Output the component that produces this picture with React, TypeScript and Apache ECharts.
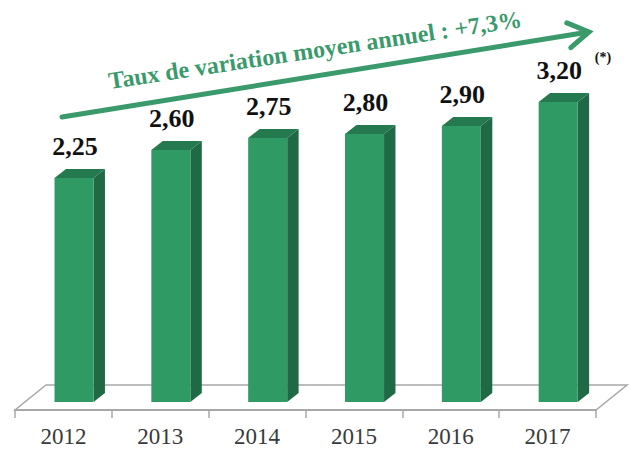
import React, { useEffect, useRef } from "react";
import * as echarts from "echarts";

const categories = ["2012", "2013", "2014", "2015", "2016", "2017"];
const values = [2.25, 2.6, 2.75, 2.8, 2.9, 3.2];
const valueLabels = ["2,25", "2,60", "2,75", "2,80", "2,90", "3,20"];
const arrowText = "Taux de variation moyen annuel : +7,3%";
const noteText = "(*)";

const Y_MIN = -0.65;
const Y_BASE = -0.55;
const Y_MAX = 3.35;

const FRONT = "#2f9a64";
const SIDE = "#1f6a45";
const TOP = "#24794f";
const ARROW = "#3a9a6c";
const SERIF = "'Liberation Serif', 'Times New Roman', serif";

export default function App() {
  const ref = useRef<HTMLDivElement>(null);
  useEffect(() => {
    if (!ref.current) return;
    const chart = echarts.init(ref.current, null, { renderer: "svg" });

    const ax0 = 62, ay0 = 117, ax1 = 589, ay1 = 32;
    const ang = Math.atan2(ay0 - ay1, ax1 - ax0);
    const bx = -Math.cos(ang), by = Math.sin(ang);
    const wing = (a: number, len: number) => {
      const c = Math.cos(a), s = Math.sin(a);
      return [ax1 + (bx * c - by * s) * len, ay1 + (bx * s + by * c) * len];
    };

    chart.setOption({
      animation: false,
      backgroundColor: "#ffffff",
      grid: { left: 15, right: 34, top: 90, bottom: 40 },
      xAxis: {
        type: "category",
        data: categories,
        axisLine: { show: true, onZero: false, lineStyle: { color: "#a8a8a8", width: 2 } },
        axisTick: { show: true, length: 8, lineStyle: { color: "#a8a8a8", width: 1.5 } },
        axisLabel: { margin: 15, fontSize: 23, fontFamily: SERIF, color: "#3a3a3a" },
      },
      yAxis: {
        type: "value",
        min: Y_MIN,
        max: Y_MAX,
        show: false,
        splitLine: { show: false },
      },
      graphic: [
        {
          type: "polygon",
          z: 0,
          shape: { points: [[15, 410], [596, 410], [627, 385], [46, 385]] },
          style: { fill: "#ffffff", stroke: "#a8a8a8", lineWidth: 1.5 },
        },
        {
          type: "line",
          z: 10,
          shape: { x1: ax0, y1: ay0, x2: ax1 + bx * 2, y2: ay1 + by * 2 },
          style: { stroke: ARROW, lineWidth: 5, lineCap: "round" },
        },
        {
          type: "polyline",
          z: 10,
          shape: { points: [wing(0.55, 24), [ax1, ay1], wing(-0.55, 24)] },
          style: { stroke: ARROW, lineWidth: 5, lineCap: "round", lineJoin: "miter", fill: "none" },
        },
        {
          type: "text",
          z: 10,
          x: 315,
          y: 50,
          rotation: 0.15,
          style: {
            text: arrowText,
            x: 0,
            y: 0,
            align: "center",
            verticalAlign: "middle",
            fill: ARROW,
            font: `bold 24px ${SERIF}`,
          },
        },
        {
          type: "text",
          z: 10,
          x: 603,
          y: 57,
          style: {
            text: noteText,
            align: "center",
            verticalAlign: "middle",
            fill: "#111111",
            font: `bold 14px ${SERIF}`,
          },
        },
      ],
      series: [
        {
          type: "custom",
          z: 5,
          data: values.map((v, i) => [i, v]),
          renderItem: (params: any, api: any) => {
            const idx = api.value(0);
            const val = api.value(1);
            const top = api.coord([idx, val]);
            const base = api.coord([idx, Y_BASE]);
            const band = api.size([1, 0])[0];
            const w = band * 0.403;
            const dx = band * 0.118;
            const dy = -9;
            const L = top[0] - band * 0.092;
            const R = L + w;
            const T = top[1];
            const B = base[1];
            return {
              type: "group",
              children: [
                {
                  type: "polygon",
                  shape: { points: [[R, T], [R + dx, T + dy], [R + dx, B + dy], [R, B]] },
                  style: { fill: SIDE },
                },
                {
                  type: "polygon",
                  shape: { points: [[L, T], [L + dx, T + dy], [R + dx, T + dy], [R, T]] },
                  style: { fill: TOP },
                },
                {
                  type: "rect",
                  shape: { x: L, y: T, width: w, height: B - T },
                  style: { fill: FRONT },
                },
                {
                  type: "text",
                  x: L + w / 2 + 1,
                  y: T - 32,
                  style: {
                    text: valueLabels[params.dataIndex],
                    align: "center",
                    verticalAlign: "middle",
                    fill: "#111111",
                    font: `bold 26px ${SERIF}`,
                  },
                },
              ],
            };
          },
        },
      ],
    });
    return () => chart.dispose();
  }, []);
  return (
    <div
      ref={ref}
      style={{ position: "absolute", left: 0, top: 0, width: 630, height: 450 }}
    />
  );
}
